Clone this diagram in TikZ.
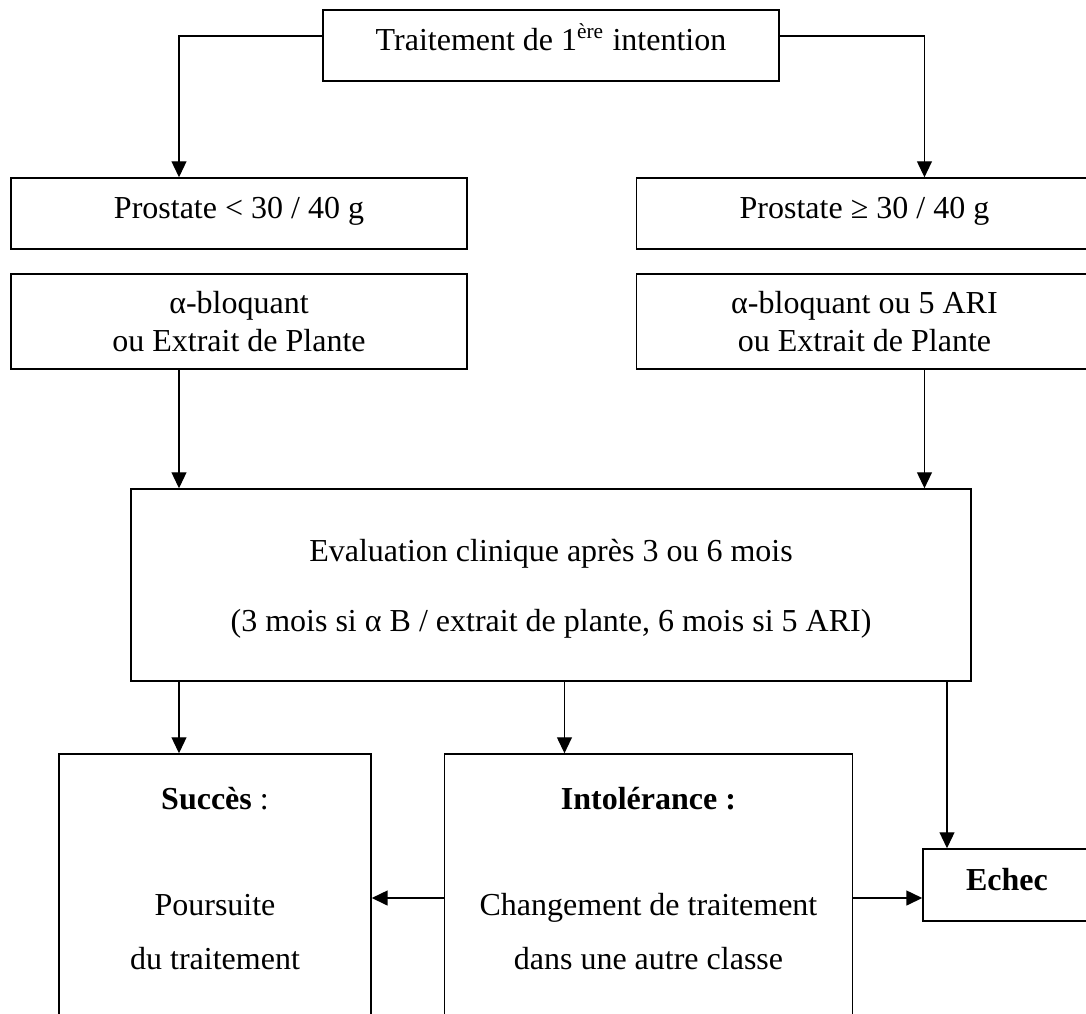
\documentclass[tikz,border=0pt]{standalone}
\usepackage{fontspec}
\setmainfont{Liberation Serif}
\usetikzlibrary{arrows.meta,positioning}
\newcommand{\lignes}[1]{\begin{tabular}[t]{@{}c@{}}#1\end{tabular}}

\begin{document}
\begin{tikzpicture}[x=0.375pt, y=-0.375pt,
  box/.style = {draw, rectangle, line width=0.55pt, inner sep=0pt, anchor=base, font=\fontsize{12}{14.25}\selectfont},
  etape/.style = {box, minimum width=171pt, text height=15pt, text depth=11.625pt},
  choix/.style = {box, minimum width=171pt, text height=14.625pt, text depth=21pt},
  issue/.style = {box, text height=20.625pt, text depth=87.375pt},
  fleche/.style = {line width=0.5pt, -{Triangle[length=6pt,width=5.6pt]}}]
\clip (0,0) rectangle (1086,1013);
\useasboundingbox (0,0) rectangle (1086,1013);
\node[etape] (debut) at (551,50) {Traitement de 1\textsuperscript{ère} intention};
\node[etape] (petite) at (239,218) {Prostate < 30 / 40 g};
\node[etape] (grosse) [right=63pt of petite] {Prostate ≥ 30 / 40 g};
\node[choix] (tpetite) at (239,313) {\lignes{α-bloquant\\ou Extrait de Plante}};
\node[choix] (tgrosse) [right=63pt of tpetite] {\lignes{α-bloquant ou 5 ARI\\ou Extrait de Plante}};
\node[box, minimum width=315pt, text height=27pt, text depth=45pt] (eval) at (551,561)
  {\lignes{Evaluation clinique après 3 ou 6 mois\\[12pt](3 mois si α B / extrait de plante, 6 mois si 5 ARI)}};
\node[issue, minimum width=117pt] (succes) at (215,809)
  {\lignes{\textbf{Succès} :\\[25.5pt]Poursuite\\[6pt]du traitement}};
\node[issue, minimum width=153pt] (intol) [right=27pt of succes]
  {\lignes{\textbf{Intolérance :}\\[25.5pt]Changement de traitement\\[6pt]dans une autre classe}};
\node[box, minimum width=63pt, text height=15.375pt, text depth=11.625pt] (echec) at (1007,890) {\textbf{Echec}};
% branches du haut
\draw[fleche] ([yshift=3.5625pt]debut.west) -| ([xshift=-22.5pt]petite.north);
\draw[fleche] ([yshift=3.5625pt]debut.east) -| ([xshift=22.5pt]grosse.north);
\draw[fleche] ([xshift=-22.5pt]tpetite.south) -- ([xshift=-22.5pt]tpetite.south |- eval.north);
\draw[fleche] ([xshift=22.5pt]tgrosse.south) -- ([xshift=22.5pt]tgrosse.south |- eval.north);
% issues
\draw[fleche] ([xshift=-13.5pt]succes.north |- eval.south) -- ([xshift=-13.5pt]succes.north);
\draw[fleche] ([xshift=-31.5pt]intol.north |- eval.south) -- ([xshift=-31.5pt]intol.north);
\draw[fleche] ([xshift=-22.5pt]echec.north |- eval.south) -- ([xshift=-22.5pt]echec.north);
\draw[fleche, line width=0.65pt] (intol.west) -- (succes.east);
\draw[fleche, line width=0.65pt] (intol.east) -- (intol.east -| echec.west);
\end{tikzpicture}
\end{document}
